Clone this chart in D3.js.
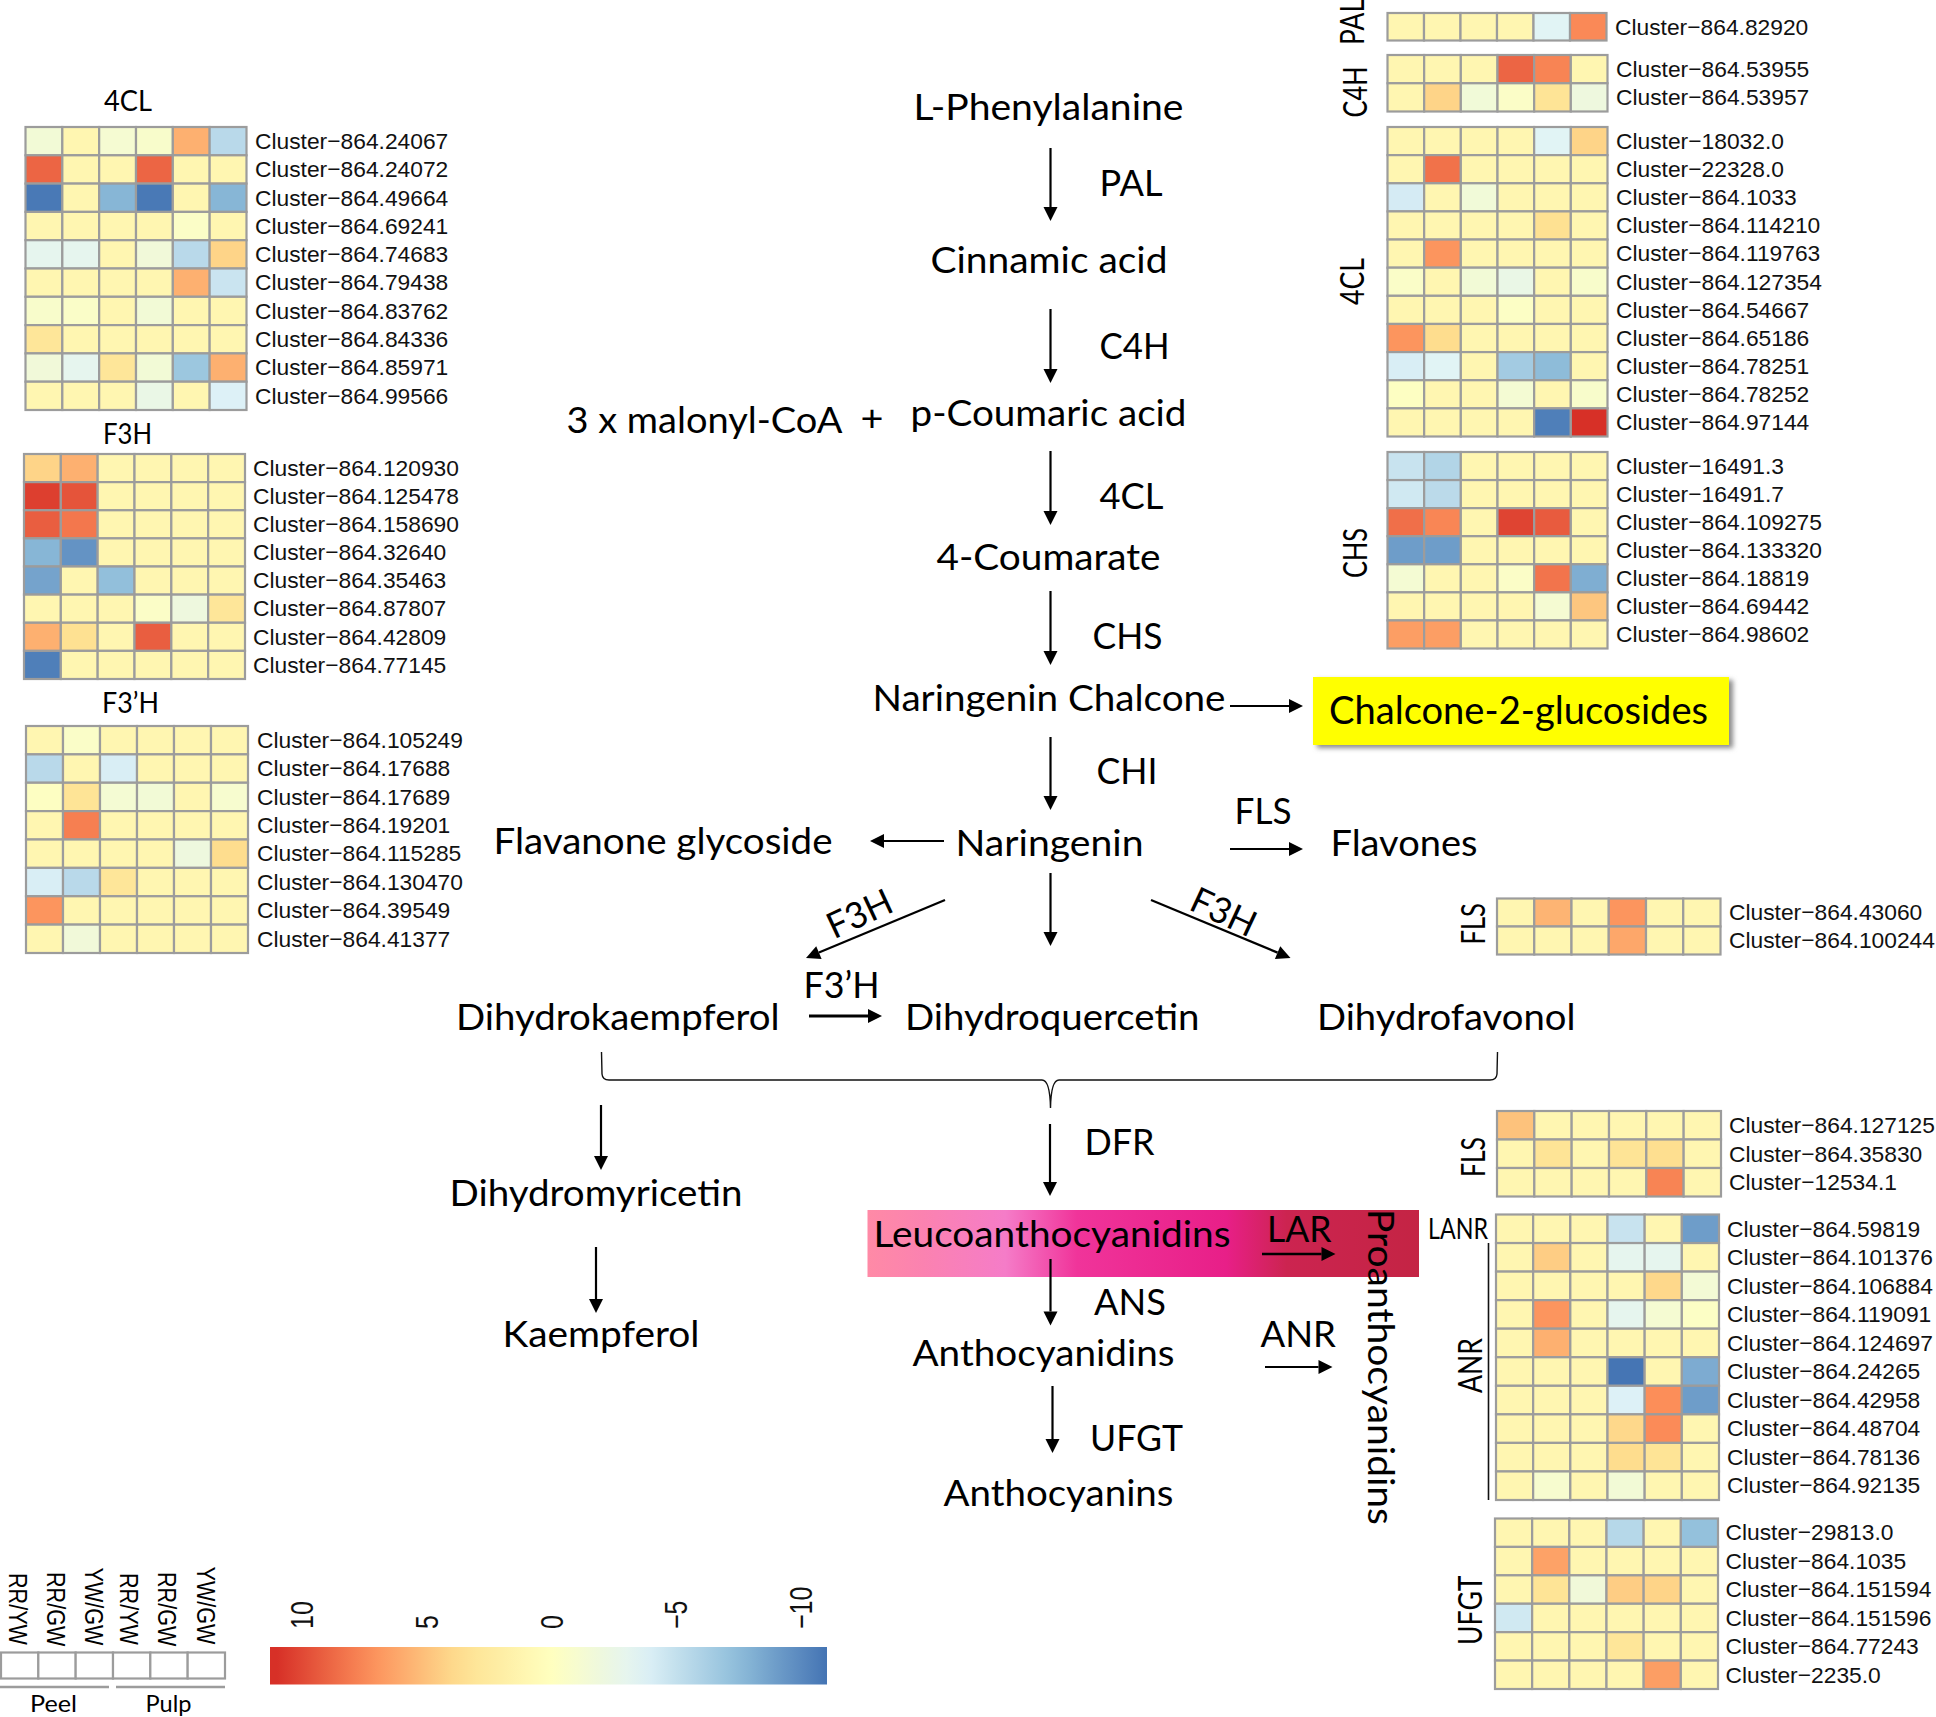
<!DOCTYPE html>
<html>
<head>
<meta charset="utf-8">
<script src="https://cdn.jsdelivr.net/npm/d3@7"></script>
<style>
html,body{margin:0;padding:0;background:#fff;}
svg{display:block;}
</style>
</head>
<body>
<svg id="chart" width="1936" height="1717" viewBox="0 0 1936 1717"></svg>
<script>
// ---- data: log2 fold change per cluster, six comparisons per row ----
const comparisons = ["RR/YW","RR/GW","YW/GW","RR/YW","RR/GW","YW/GW"];
const tissues = ["Peel","Pulp"];
const legendTicks = [10,5,0,-5,-10];

const names4CLa = ["Cluster−864.24067","Cluster−864.24072","Cluster−864.49664","Cluster−864.69241","Cluster−864.74683","Cluster−864.79438","Cluster−864.83762","Cluster−864.84336","Cluster−864.85971","Cluster−864.99566"];
const values4CLa = [
 [-1.5,1.1,-1.2,-0.8,5.8,-5.5],
 [8.9,1.1,1.1,8.9,1.1,1.1],
 [-10.8,1.1,-7.8,-10.8,1.1,-7.8],
 [1.1,1.1,1.1,1.1,-0.5,1.1],
 [-3,-3,1.1,-1.7,-5.5,4.2],
 [1.1,1.1,1.1,1.1,5.8,-4.7],
 [-0.8,-0.6,1.1,-1.5,1.1,1.1],
 [3,1.1,1.1,1.1,1.1,1.1],
 [-1.7,-3,3,-1.5,-6.8,5.8],
 [1.1,1.1,1.1,-2.5,1.1,-3.8]];

const namesF3H = ["Cluster−864.120930","Cluster−864.125478","Cluster−864.158690","Cluster−864.32640","Cluster−864.35463","Cluster−864.87807","Cluster−864.42809","Cluster−864.77145"];
const valuesF3H = [
 [4.2,5.8,1.1,1.1,1.1,1.1],
 [10.4,9.6,1.1,1.1,1.1,1.1],
 [9.2,8.2,1.1,1.1,1.1,1.1],
 [-7.8,-9.5,1.1,1.1,1.1,1.1],
 [-8.7,1.1,-7.3,1.1,1.1,1.1],
 [1.1,1.1,1.1,-0.5,-2,3],
 [5.8,3.5,1.1,9.2,1.1,1.1],
 [-10.5,1.1,1.1,1.1,1.1,1.1]];

const namesF3pH = ["Cluster−864.105249","Cluster−864.17688","Cluster−864.17689","Cluster−864.19201","Cluster−864.115285","Cluster−864.130470","Cluster−864.39549","Cluster−864.41377"];
const valuesF3pH = [
 [1.1,-0.6,1.1,1.1,1.1,1.1],
 [-5.5,1.1,-4,1.1,1.1,1.1],
 [-0.2,3.2,-1.3,-1.5,1.1,-1],
 [1.1,7.9,1.1,1.1,1.1,1.1],
 [1.1,1.1,1.1,1.1,-2,3.8],
 [-4,-5.5,3,1.1,1.1,1.1],
 [7,1.1,1.1,1.1,1.1,1.1],
 [1.1,-1.7,1.1,1.1,1.1,1.1]];

const namesPAL = ["Cluster−864.82920"];
const valuesPAL = [[1.1,1.1,1.1,1.1,-3.5,7.5]];

const namesC4H = ["Cluster−864.53955","Cluster−864.53957"];
const valuesC4H = [
 [1.1,1.1,1.1,8.9,7.7,1.1],
 [1.1,4.2,-1.6,-0.5,3.2,-2]];

const names4CLb = ["Cluster−18032.0","Cluster−22328.0","Cluster−864.1033","Cluster−864.114210","Cluster−864.119763","Cluster−864.127354","Cluster−864.54667","Cluster−864.65186","Cluster−864.78251","Cluster−864.78252","Cluster−864.97144"];
const values4CLb = [
 [1.1,1.1,1.1,1.1,-3.5,4.2],
 [1.1,8.4,1.1,1.1,1.1,1.1],
 [-4.2,1.1,-1.6,1.1,1.1,1.1],
 [1.1,1.1,1.1,1.1,3.5,1.1],
 [1.1,7,1.1,1.1,1.1,1.1],
 [-0.6,1.1,-1.5,-2.5,1.1,-0.8],
 [1.1,1.1,1.1,-0.4,1.1,1.1],
 [7,3.8,1.1,1.1,1.1,1.1],
 [-4,-3.5,1.1,-6.5,-7.5,1.1],
 [-0.2,1.1,1.1,-1.3,1.1,-0.8],
 [1.1,1.1,1.1,1.1,-10.5,11]];

const namesCHS = ["Cluster−16491.3","Cluster−16491.7","Cluster−864.109275","Cluster−864.133320","Cluster−864.18819","Cluster−864.69442","Cluster−864.98602"];
const valuesCHS = [
 [-4.8,-5.8,1.1,1.1,1.1,1.1],
 [-4.4,-5.4,1.1,1.1,1.1,1.1],
 [8.5,7.6,1.1,10.2,9.3,1.1],
 [-9,-9,1.1,1.1,1.1,1.1],
 [-1.3,1.1,1.1,-0.5,8.3,-8.2],
 [1.1,1.1,1.1,1.1,-1.2,4.8],
 [6.6,6.6,1.1,1.1,1.1,1.1]];

const namesFLSa = ["Cluster−864.43060","Cluster−864.100244"];
const valuesFLSa = [
 [1.1,5.6,1.1,7,1.1,1.1],
 [1.1,1.1,1.1,6.2,1.1,1.1]];

const namesFLSb = ["Cluster−864.127125","Cluster−864.35830","Cluster−12534.1"];
const valuesFLSb = [
 [5,1.1,1.1,1.1,1.1,1.1],
 [1.1,3.2,1.1,3.2,3.7,1.1],
 [1.1,1.1,1.1,1.1,7.7,1.1]];

const namesANR = ["Cluster−864.59819","Cluster−864.101376","Cluster−864.106884","Cluster−864.119091","Cluster−864.124697","Cluster−864.24265","Cluster−864.42958","Cluster−864.48704","Cluster−864.78136","Cluster−864.92135"];
const valuesANR = [
 [1.1,1.1,1.1,-4.8,1.1,-9],
 [1.1,4.5,1.1,-3,-3,1.1],
 [1.1,1.1,1.1,1.1,4,-1.4],
 [1.1,7,1.1,-3,-1.2,-0.4],
 [1.1,5.8,1.1,1.1,1.1,1.1],
 [1.1,1.1,1.1,-11,1.1,-8.3],
 [1.1,1.1,1.1,-3.8,7.3,-9],
 [1.1,1.1,1.1,4,7.4,1.1],
 [1.1,1.1,1.1,3.8,3.2,1.1],
 [1.1,-1,1.1,-1.5,1.1,1.1]];

const namesUFGT = ["Cluster−29813.0","Cluster−864.1035","Cluster−864.151594","Cluster−864.151596","Cluster−864.77243","Cluster−2235.0"];
const valuesUFGT = [
 [1.1,1.1,1.1,-5.6,1.1,-7.2],
 [1.1,6.4,1.1,1.1,1.1,1.1],
 [1.1,3.2,-1.7,4.5,4.2,1.1],
 [-4.4,1.1,1.1,1.1,1.1,1.1],
 [1.1,1.1,1.1,3,1.1,1.1],
 [1.1,1.1,1.1,1.1,6.6,1.1]];

// ---- colour scale (RdYlBu, seven stops across the legend's range) ----
const colorStops = ["#4575b4","#91bfdb","#e0f3f8","#ffffbf","#fee090","#fc8d59","#d73027"];
const legendMin = -11, legendMax = 11;
const color = d3.scaleLinear()
  .domain(d3.range(7).map(i => legendMin + i * (legendMax - legendMin) / 6))
  .range(colorStops).interpolate(d3.interpolateRgb).clamp(true);

// ---- layout ----
const svg = d3.select("#chart");
const GRID = "#9c9c9c";
const SANS = "'Liberation Sans',Arial,sans-serif";
const HUM = "Lato,'Open Sans',sans-serif";
const defs = svg.append("defs");

svg.append("rect").attr("width",1936).attr("height",1717).attr("fill","#fff");

const panels = [
 {v:values4CLa,n:names4CLa,x0:24.5,x1:247.5,y0:126,y1:411,lx:255},
 {v:valuesF3H,n:namesF3H,x0:23,x1:246,y0:453,y1:680,lx:253},
 {v:valuesF3pH,n:namesF3pH,x0:25,x1:249,y0:725,y1:954,lx:257},
 {v:valuesPAL,n:namesPAL,x0:1386.5,x1:1607.5,y0:12,y1:41.5,lx:1615},
 {v:valuesC4H,n:namesC4H,x0:1386.5,x1:1608.5,y0:54,y1:112.5,lx:1616},
 {v:values4CLb,n:names4CLb,x0:1386.5,x1:1608.5,y0:126,y1:437.5,lx:1616},
 {v:valuesCHS,n:namesCHS,x0:1386.5,x1:1608.5,y0:451,y1:649.5,lx:1616},
 {v:valuesFLSa,n:namesFLSa,x0:1496,x1:1721.5,y0:897.5,y1:955.5,lx:1729},
 {v:valuesFLSb,n:namesFLSb,x0:1496,x1:1722,y0:1110,y1:1197.5,lx:1729},
 {v:valuesANR,n:namesANR,x0:1495,x1:1720,y0:1213.5,y1:1501,lx:1727},
 {v:valuesUFGT,n:namesUFGT,x0:1494,x1:1719,y0:1517.5,y1:1690,lx:1725.5}
];

const clusterSize = 22.8;
panels.forEach(p => {
  const xs = d3.scaleBand().domain(d3.range(6)).range([p.x0+1,p.x1-1]);
  const ys = d3.scaleBand().domain(d3.range(p.v.length)).range([p.y0+1,p.y1-1]);
  const g = svg.append("g");
  g.selectAll("g.row").data(p.v).join("g").attr("class","row")
    .selectAll("rect").data((row,i)=>row.map((value,j)=>({value,i,j}))).join("rect")
    .attr("x",d=>xs(d.j)).attr("y",d=>ys(d.i))
    .attr("width",xs.bandwidth()).attr("height",ys.bandwidth())
    .attr("fill",d=>color(d.value))
    .attr("stroke",GRID).attr("stroke-width",2.2);
  g.selectAll("text").data(p.n).join("text")
    .attr("x",p.lx).attr("y",(d,i)=>ys(i)+ys.bandwidth()/2)
    .attr("dy","0.34em")
    .attr("font-family",SANS).attr("font-size",clusterSize).attr("fill","#111")
    .text(d=>d);
});

// ---- text helper: width forced to what the picture shows ----
function label(txt,x,y,len,size,rot){
  const t = svg.append("text")
    .attr("font-family",HUM).attr("font-size",size).attr("fill","#000")
    .attr("textLength",len).attr("lengthAdjust","spacingAndGlyphs")
    .text(txt);
  if(rot) t.attr("transform",`translate(${x},${y}) rotate(${rot})`);
  else t.attr("x",x).attr("y",y);
  return t;
}

// ---- highlighted boxes ----
const gradStops = [[0,"#ff8aa6"],[0.1,"#fb82b0"],[0.25,"#f57cc8"],[0.38,"#f0349a"],[0.65,"#e81f88"],[0.76,"#cc2450"],[1,"#c42444"]];
const pink = defs.append("linearGradient").attr("id","pinkGrad");
pink.selectAll("stop").data(gradStops).join("stop").attr("offset",d=>d[0]).attr("stop-color",d=>d[1]);
svg.append("rect").attr("x",867.5).attr("y",1210).attr("width",551.5).attr("height",67).attr("fill","url(#pinkGrad)");

const blur = defs.append("filter").attr("id","soft").attr("x","-5%").attr("y","-20%").attr("width","110%").attr("height","140%");
blur.append("feGaussianBlur").attr("stdDeviation",2.5);
svg.append("rect").attr("x",1317).attr("y",680).attr("width",416).attr("height",68).attr("fill","#8a8a8a").attr("filter","url(#soft)");
svg.append("rect").attr("x",1313).attr("y",677).attr("width",416).attr("height",68).attr("fill","#ffff00");

// ---- pathway labels: text, x, baseline y, width, size ----
[
 ["L-Phenylalanine",915,119.5,267,36],
 ["PAL",1101,196,60,36],
 ["Cinnamic acid",932,273,234,36],
 ["C4H",1101,359,67,36],
 ["3 x malonyl-CoA",568,433,273,36],
 ["+",862,431,20,36],
 ["p-Coumaric acid",912,426,273,36],
 ["4CL",1101,509,61,36],
 ["4-Coumarate",938,569.5,221,36],
 ["CHS",1094,648.5,67,36],
 ["Naringenin Chalcone",874,711,350,36],
 ["CHI",1098,784,58,36],
 ["Naringenin",957,856,185,36],
 ["Flavanone glycoside",495,854,336,36],
 ["FLS",1236,824,54,36],
 ["Flavones",1332,856,144,36],
 ["Chalcone-2-glucosides",1330.5,724,376,38],
 ["F3’H",805,998,73,36],
 ["Dihydrokaempferol",457.5,1030,320.5,36],
 ["Dihydroquercetin",906.5,1030,291.5,36],
 ["Dihydrofavonol",1318.5,1030,255.5,36],
 ["Dihydromyricetin",451,1206,290,36],
 ["Kaempferol",504,1347,194,36],
 ["DFR",1086,1155,67,36],
 ["Leucoanthocyanidins",875,1247,354,36],
 ["LAR",1268.5,1241.5,61.5,36],
 ["ANS",1095.5,1315,69,36],
 ["Anthocyanidins",914,1365.5,259,36],
 ["ANR",1262,1347,72.5,36],
 ["UFGT",1091.5,1450.5,90,36],
 ["Anthocyanins",945,1506,227,36]
].forEach(d=>label(d[0],d[1]-1.5,d[2],d[3]+3,d[4]));

[
 ["4CL",104,111,48,28],
 ["F3H",103,444,49,28],
 ["F3’H",102,713,57,28],
 ["LANR",1428,1238.5,60,28]
].forEach(d=>label(d[0],d[1],d[2],d[3],d[4]));

// rotated labels: text, x, y, width, size, rotation
[
 ["Proanthocyanidins",1368,1209,316,36,90],
 ["F3H",834,939.5,68,36,-25],
 ["F3H",1187.5,909,68,36,25],
 ["PAL",1364,45,46,32,-90],
 ["C4H",1366.5,117.5,51,32,-90],
 ["4CL",1364,305,47,32,-90],
 ["CHS",1366.5,578,50,32,-90],
 ["FLS",1484.5,944.5,41.5,32,-90],
 ["FLS",1484.5,1177,40,32,-90],
 ["ANR",1481.5,1393,55,32,-90],
 ["UFGT",1482,1645,69.5,32,-90]
].forEach(d=>label(d[0],d[1],d[2],d[3],d[4],d[5]));

// ---- arrows ----
function arrow(x1,y1,x2,y2,w){
  w = w||2.2;
  const a = Math.atan2(y2-y1,x2-x1), L = 14, H = 7;
  const bx = x2-L*Math.cos(a), by = y2-L*Math.sin(a);
  svg.append("line").attr("x1",x1).attr("y1",y1).attr("x2",bx).attr("y2",by)
    .attr("stroke","#000").attr("stroke-width",w);
  const nx = -Math.sin(a)*H, ny = Math.cos(a)*H;
  svg.append("path").attr("d",`M${x2},${y2}L${bx+nx},${by+ny}L${bx-nx},${by-ny}Z`).attr("fill","#000");
}
[
 [1050.5,148,1050.5,221],[1050.5,309,1050.5,383],[1050.5,451,1050.5,525],
 [1050.5,591,1050.5,665],[1230,706,1303,706],[1050.5,737,1050.5,810],
 [944,841,870,841],[1230,849,1303,849],
 [945,900,806,958],[1050.5,873,1050.5,946],[1151,900,1290.5,958],
 [809,1016,882,1016,3],
 [601,1105,601,1170],[596,1247,596,1313],[1050,1124,1050,1196],
 [1262,1254,1335.5,1254,2.6],[1050.5,1259,1050.5,1325.5],
 [1265,1367,1332.5,1367],[1052.5,1386,1052.5,1453]
].forEach(d=>arrow(d[0],d[1],d[2],d[3],d[4]));

// brace and ANR rule
svg.append("path")
  .attr("d","M601.5,1052L602,1074Q602.5,1080 609,1080L1042,1080Q1050,1080 1050.5,1108Q1051,1080 1059,1080L1490,1080Q1496.5,1080 1497,1074L1497.5,1052")
  .attr("fill","none").attr("stroke","#111").attr("stroke-width",1.4);
svg.append("line").attr("x1",1488.5).attr("x2",1488.5).attr("y1",1243).attr("y2",1500)
  .attr("stroke","#111").attr("stroke-width",1.6);

// ---- sample key ----
const keyX = d3.scaleBand().domain(d3.range(6)).range([1,225]);
svg.append("g").selectAll("rect").data(comparisons).join("rect")
  .attr("x",(d,i)=>keyX(i)).attr("y",1652.5)
  .attr("width",keyX.bandwidth()).attr("height",26)
  .attr("fill","#fff").attr("stroke",GRID).attr("stroke-width",2.2);
const keyTextX = [9.3,46.7,84.7,119.7,157.7,196.7];
const keyTextY = [1573,1572,1567.5,1573,1572,1566.5];
svg.append("g").selectAll("text").data(comparisons).join("text")
  .attr("transform",(d,i)=>`translate(${keyTextX[i]},${keyTextY[i]}) rotate(90) scale(1,1.2)`)
  .attr("font-family",SANS).attr("font-size",21.6).attr("fill","#000").text(d=>d);
const tissueSpan = [[0,109],[116,225]];
svg.append("g").selectAll("line").data(tissues).join("line")
  .attr("x1",(d,i)=>tissueSpan[i][0]).attr("x2",(d,i)=>tissueSpan[i][1])
  .attr("y1",1687).attr("y2",1687).attr("stroke",GRID).attr("stroke-width",2.6);
label(tissues[0],30,1711.5,47,24);
label(tissues[1],145.5,1711.5,46,24);

// ---- colour legend ----
const legendX = d3.scaleLinear().domain([10,-10]).range([302,801]);
const barLeft = 270, barRight = 827;
const barGrad = defs.append("linearGradient").attr("id","barGrad")
  .attr("gradientUnits","userSpaceOnUse").attr("x1",barLeft).attr("x2",barRight).attr("y1",0).attr("y2",0);
barGrad.selectAll("stop").data(d3.range(legendMax,legendMin-1,-1)).join("stop")
  .attr("offset",d=>(legendX(d)-barLeft)/(barRight-barLeft))
  .attr("stop-color",d=>color(d));
svg.append("rect").attr("x",barLeft).attr("y",1647).attr("width",barRight-barLeft).attr("height",37.5)
  .attr("fill","url(#barGrad)");
svg.append("g").selectAll("text").data(legendTicks).join("text")
  .attr("transform",d=>`translate(${legendX(d)+11},1629) rotate(-90) scale(1,1.25)`)
  .attr("font-family",SANS).attr("font-size",25).attr("fill","#111")
  .text(d=>d<0?"−"+Math.abs(d):d);
</script>
</body>
</html>
